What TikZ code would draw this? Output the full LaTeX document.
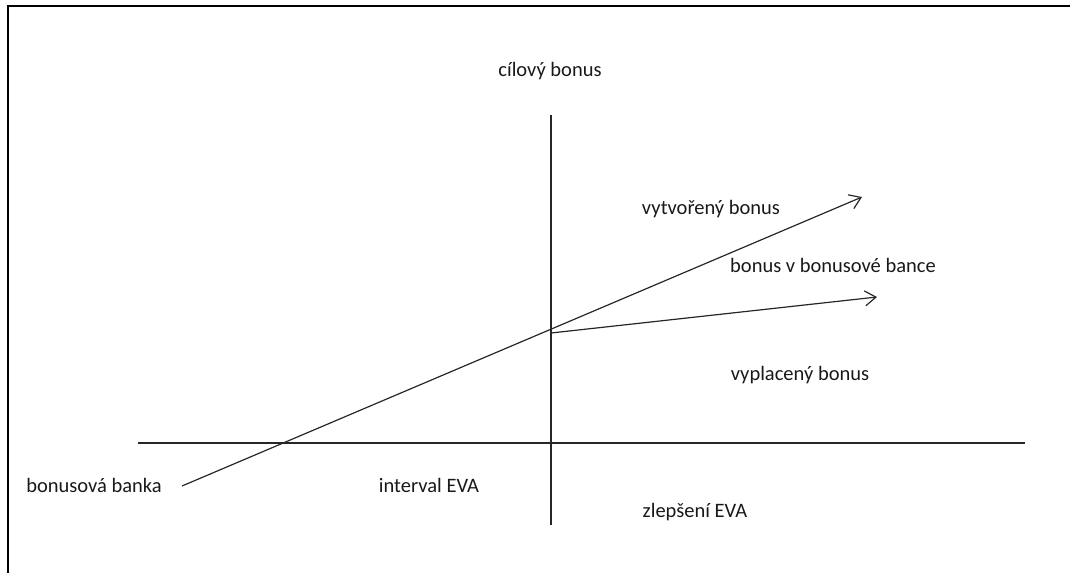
\documentclass[tikz,border=0pt]{standalone}
\usepackage{fontspec}
\setmainfont{Carlito}
\usetikzlibrary{arrows.meta}
\begin{document}
\begin{tikzpicture}[x=1pt,y=-1pt,
  lbl/.style={font=\fontsize{20.5}{24}\selectfont, text=black!90, inner sep=0pt},
  axis/.style={draw=black!85, line width=1.2pt},
  arr/.style={draw=black!85, line width=1.2pt, -{Straight Barb[length=11pt,width=15pt,line width=1.2pt]}},
  frame/.style={draw=black, line width=2pt}]
\useasboundingbox (0,0) rectangle (1070,573);
% frame (top and left only)
\coordinate (f1) at (1070,6);
\coordinate (f2) at (8,6);
\coordinate (f3) at (8,573);
\draw[frame] (f1) -- (f2) -- (f3);
% axes
\coordinate (xl) at (138,443);
\coordinate (xr) at (1025,443);
\coordinate (yt) at (551,115);
\coordinate (yb) at (551,525);
\draw[axis] (xl) -- (xr);
\draw[axis] (yt) -- (yb);
% arrows
\coordinate (d0) at (182,486);
\coordinate (d1) at (862,197);
\coordinate (o) at (551,333);
\coordinate (e1) at (877,297);
\draw[arr] (d0) -- (d1);
\draw[arr] (o) -- (e1);
% labels
\node[lbl] (cil) at (550,71) {cílový bonus};
\node[lbl] (vyt) at (711,209) {vytvořený bonus};
\node[lbl] (bvb) at (833,265) {bonus v bonusové bance};
\node[lbl] (vyp) at (800,375) {vyplacený bonus};
\node[lbl] (bb) at (94,485) {bonusová banka};
\node[lbl] (int) at (429,485) {interval EVA};
\node[lbl] (zl) at (695,512) {zlepšení EVA};
\end{tikzpicture}
\end{document}
